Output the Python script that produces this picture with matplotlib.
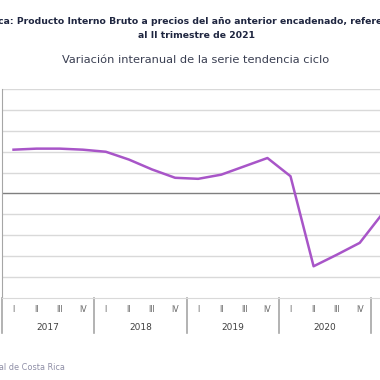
import matplotlib
matplotlib.use("Agg")
import matplotlib.pyplot as plt
import matplotlib.transforms as mtransforms
import numpy as np

# Costa Rica PIB, variación interanual de la serie tendencia ciclo (%)
years = ["2017", "2018", "2019", "2020", "2021"]
quarters = ["I", "II", "III", "IV"]
growth = [4.2, 4.3, 4.3, 4.2,
          4.0, 3.25, 2.3, 1.5,
          1.4, 1.8, 2.6, 3.4,
          1.65, -7.0, -5.9, -4.75,
          -1.9, 1.2]

W, H = 380, 380
fig = plt.figure(figsize=(W / 100, H / 100), dpi=100)
plt.rcParams['font.family'] = ['DejaVu Sans']

n = len(growth)
qw = 23.08  # px per quarter
left_px, top_px, bottom_px = 2, 89.3, 297.5
ax = fig.add_axes([left_px / W, 1 - bottom_px / H, n * qw / W, (bottom_px - top_px) / H])

x = np.arange(n)
ax.set_xlim(-0.5, n - 0.5)
ax.set_ylim(-10, 10)

for v in range(-8, 11, 2):
    if v == 0:
        continue
    ax.axhline(v, color="#d9d9d9", lw=1.0, zorder=1)
ax.axhline(0, color="#7f7f7f", lw=1.0, zorder=2)

ax.plot(x, growth, color="#a855c8", lw=1.8, zorder=3)

for s in ["top", "right"]:
    ax.spines[s].set_visible(False)
ax.spines["bottom"].set_color("#d9d9d9")
ax.spines["left"].set_color("#a6a6a6")
ax.set_xticks([])
ax.set_yticks([])

trans = mtransforms.blended_transform_factory(ax.transData, ax.transAxes)
sep_bottom = -(333 - bottom_px) / (bottom_px - top_px)
q_y = -(309 - bottom_px) / (bottom_px - top_px)
y_y = -(328 - bottom_px) / (bottom_px - top_px)

for k in range(len(years) + 1):
    xs = k * 4 - 0.5
    ax.plot([xs, xs], [0, sep_bottom], transform=trans, color="#a6a6a6",
            lw=1.2, clip_on=False)

for i in range(n):
    ax.text(i, q_y, quarters[i % 4], transform=trans, ha="center", va="center",
            fontsize=5.7, color="#666666")
for k, yr in enumerate(years):
    ax.text(k * 4 + 1.5, y_y, yr, transform=trans, ha="center", va="center",
            fontsize=6.5, color="#404040")

fig.text(196 / W, 1 - 22 / H,
         "Costa Rica: Producto Interno Bruto a precios del año anterior encadenado, referencia 2017,",
         ha="center", va="center", fontsize=6.7, fontweight="bold", color="#1f2640")
fig.text(196 / W, 1 - 35 / H, "al II trimestre de 2021",
         ha="center", va="center", fontsize=6.7, fontweight="bold", color="#1f2640")
fig.text(196 / W, 1 - 60 / H, "Variación interanual de la serie tendencia ciclo",
         ha="center", va="center", fontsize=8.2, color="#3a3f52")
fig.text(65 / W, 1 - 367 / H, "Fuente: Banco Central de Costa Rica",
         ha="right", va="center", fontsize=5.9, color="#8e8ea6")

fig.savefig("out.png", dpi=100)
